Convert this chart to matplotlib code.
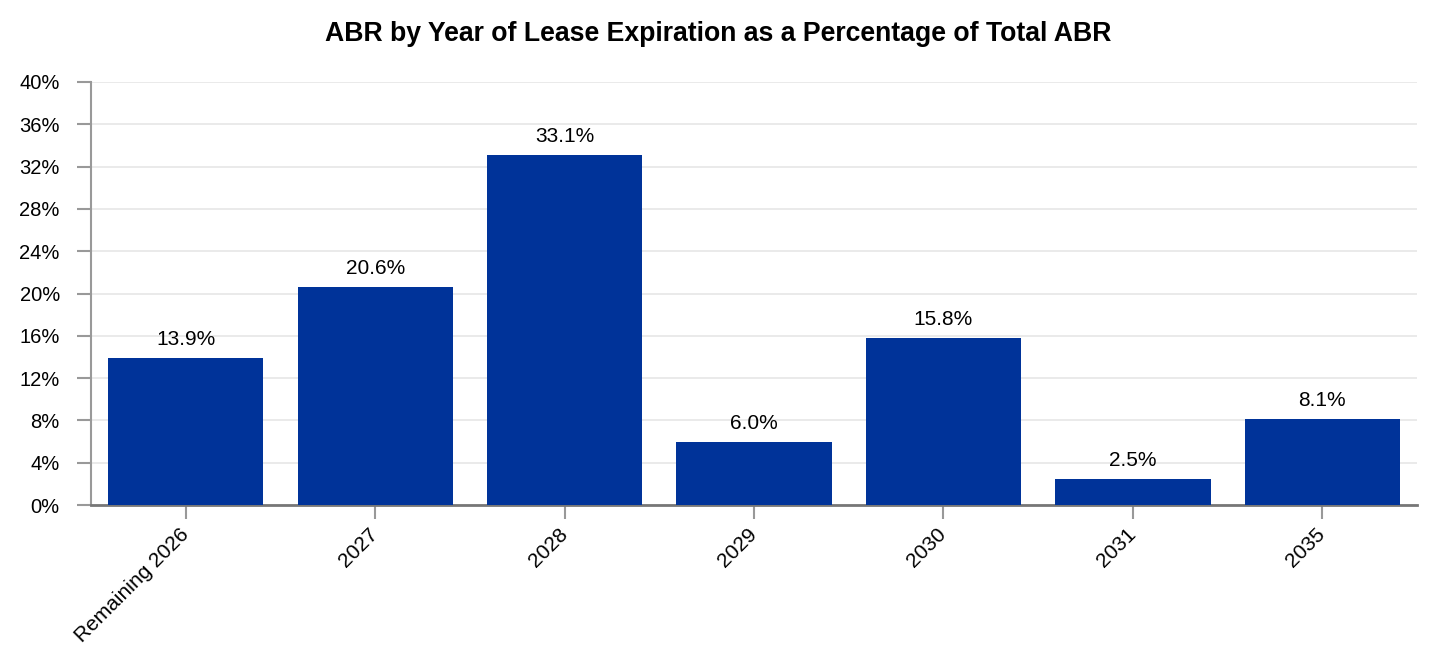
import matplotlib
matplotlib.use("Agg")
import matplotlib.pyplot as plt
from matplotlib.ticker import FuncFormatter, MultipleLocator

categories = ["Remaining 2026", "2027", "2028", "2029", "2030", "2031", "2035"]
abr_pct = [13.9, 20.6, 33.1, 6.0, 15.8, 2.5, 8.1]

plt.rcParams['font.family'] = ['Liberation Sans', 'DejaVu Sans']

fig = plt.figure(figsize=(14.36, 6.66), dpi=100)
ax = fig.add_axes([0.0634, 0.2417, 0.9234, 0.6352])

x = range(len(categories))
bars = ax.bar(x, abr_pct, width=0.82, color="#003399", zorder=3)
for b, v in zip(bars, abr_pct):
    ax.text(b.get_x() + b.get_width() / 2, v + 0.85, f"{v:.1f}%",
            ha="center", va="bottom", fontsize=15)

ax.set_xlim(-0.5, len(categories) - 0.5)
ax.set_ylim(0, 40)
ax.yaxis.set_major_locator(MultipleLocator(4))
ax.yaxis.set_major_formatter(FuncFormatter(lambda v, p: f"{v:.0f}%"))
ax.set_xticks(list(x))
ax.set_xticklabels(categories, rotation=45, ha="right", va="center",
                   rotation_mode="anchor")

ax.grid(axis="y", color="#e6e6e6", linewidth=1.2, zorder=0)
for s in ["top", "right"]:
    ax.spines[s].set_visible(False)
ax.spines["left"].set_color("#999999")
ax.spines["left"].set_linewidth(1.5)
ax.spines["bottom"].set_color("#777777")
ax.spines["bottom"].set_linewidth(2)
ax.tick_params(axis="y", length=10, width=1.5, color="#999999", labelsize=14.5, pad=12.5)
ax.tick_params(axis="x", length=10, width=1.5, color="#999999", labelsize=15, pad=9)

fig.suptitle("ABR by Year of Lease Expiration as a Percentage of Total ABR",
             x=0.5, y=0.968, va="top", fontsize=19.2, fontweight="bold")

fig.savefig("out.png", dpi=100)
